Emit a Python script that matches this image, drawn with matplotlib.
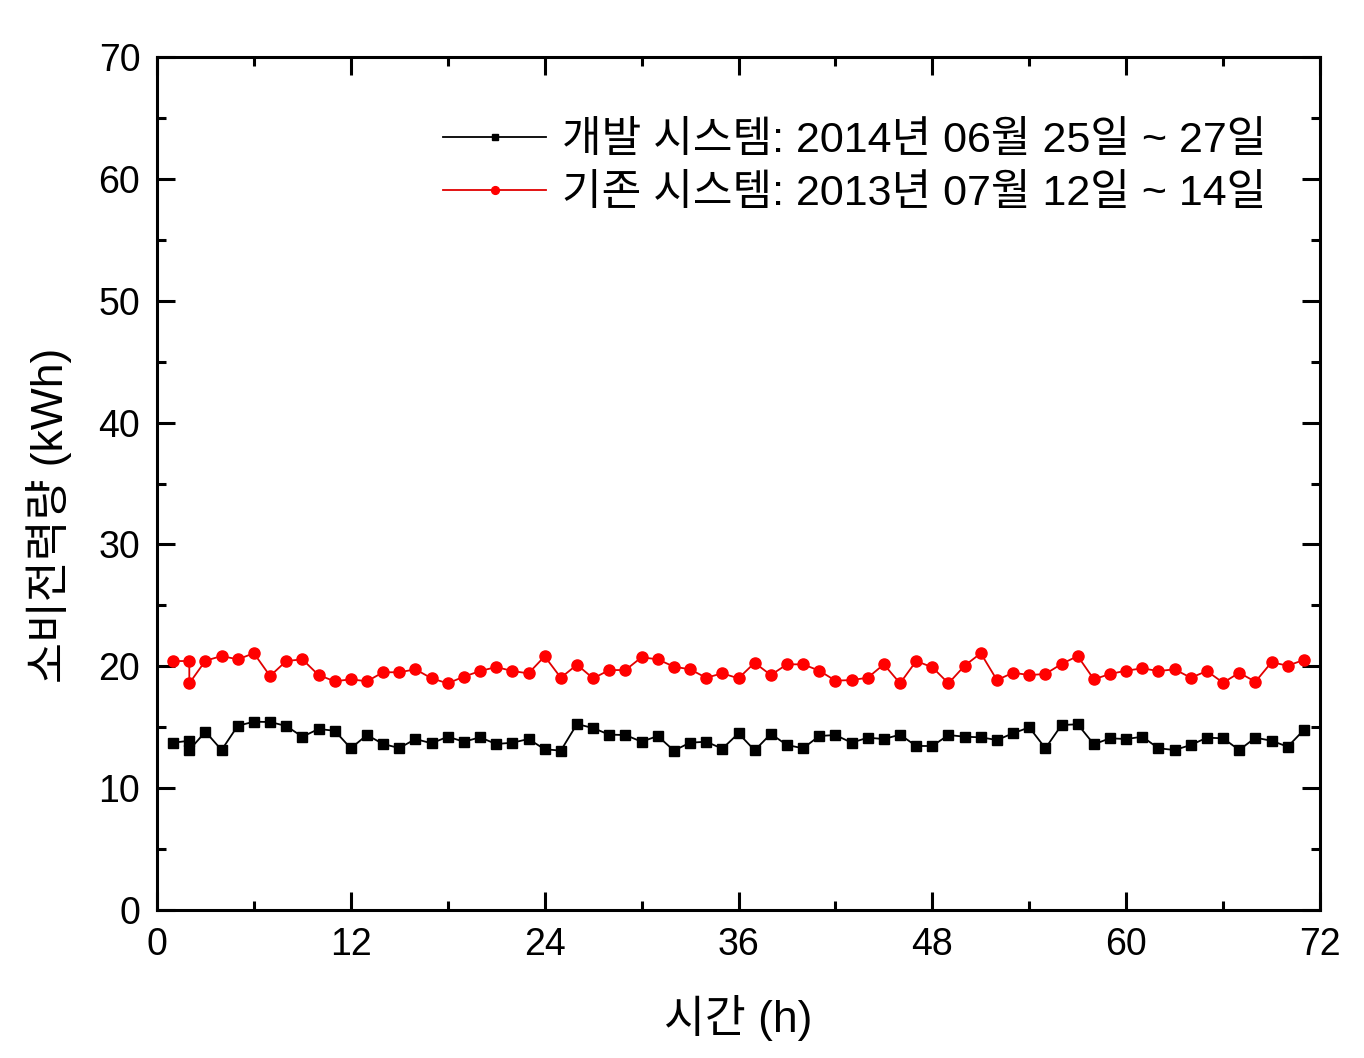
import numpy as np
import matplotlib
matplotlib.use("Agg")
import matplotlib.pyplot as plt

plt.rcParams['font.family'] = ['Liberation Sans', 'Noto Sans CJK KR']

# hours (x=2 appears twice in the source data)
hours = [1, 2, 2] + list(range(3, 72))

# 개발 시스템 (2014)
new_sys = [13.73, 13.89, 13.13, 14.63, 13.13, 15.12, 15.45, 15.43, 15.10, 14.22,
           14.85, 14.71, 13.27, 14.36, 13.62, 13.29, 14.03, 13.68, 14.22, 13.81,
           14.17, 13.62, 13.73, 14.03, 13.19, 13.08, 15.26, 14.93, 14.39, 14.36,
           13.81, 14.28, 13.08, 13.73, 13.81, 13.24, 14.50, 13.10, 14.45, 13.54,
           13.27, 14.28, 14.36, 13.73, 14.14, 14.03, 14.39, 13.46, 13.46, 14.36,
           14.22, 14.17, 13.95, 14.50, 14.99, 13.27, 15.18, 15.24, 13.60, 14.09,
           14.03, 14.22, 13.27, 13.13, 13.54, 14.14, 14.09, 13.13, 14.14, 13.89,
           13.40, 14.77]

# 기존 시스템 (2013)
old_sys = [20.43, 20.43, 18.60, 20.46, 20.84, 20.57, 21.07, 19.20, 20.43, 20.57,
           19.28, 18.77, 18.93, 18.77, 19.51, 19.51, 19.75, 19.01, 18.60, 19.15,
           19.61, 19.94, 19.61, 19.42, 20.82, 19.06, 20.13, 19.01, 19.69, 19.69,
           20.74, 20.57, 19.97, 19.75, 19.06, 19.42, 19.01, 20.29, 19.28, 20.16,
           20.16, 19.64, 18.82, 18.87, 19.06, 20.16, 18.60, 20.43, 19.92, 18.60,
           20.05, 21.07, 18.87, 19.47, 19.28, 19.37, 20.19, 20.84, 18.93, 19.37,
           19.64, 19.83, 19.61, 19.75, 19.06, 19.61, 18.65, 19.47, 18.73, 20.33,
           20.05, 20.52]

labels = ['개발 시스템: 2014년 06월 25일 ~ 27일',
          '기존 시스템: 2013년 07월 12일 ~ 14일']

fig = plt.figure(figsize=(13.64, 10.58), dpi=100)
ax = fig.add_axes([157/1364, 148/1058, 1163/1364, 853/1058])

ax.plot(hours, new_sys, color='black', linewidth=1.3, marker='s', markersize=7,
        label=labels[0])
ax.plot(hours, old_sys, color='#e00000', linewidth=1.3, marker='o', markersize=8,
        markerfacecolor='#ff0000', markeredgecolor='#ff0000', label=labels[1])

ax.set_xlim(0, 72)
ax.set_ylim(0, 70)
ax.set_xticks(np.arange(0, 73, 12))
ax.set_xticks(np.arange(6, 72, 12), minor=True)
ax.set_yticks(np.arange(0, 71, 10))
ax.set_yticks(np.arange(5, 70, 10), minor=True)

# 눈금은 안쪽, 네 면 모두
ax.tick_params(which='both', direction='in', top=True, right=True, width=2.2)
ax.tick_params(which='major', length=13, labelsize=27, pad=12)
ax.tick_params(which='minor', length=6.5)
for s in ax.spines.values():
    s.set_linewidth(2.2)

ax.set_xlabel('시간 (h)', fontsize=32, labelpad=23)
ax.set_ylabel('소비전력량 (kWh)', fontsize=32)
ax.yaxis.set_label_coords(-0.073, 0.463)

leg = ax.legend(loc='upper right', bbox_to_anchor=(0.969, 0.945), frameon=False,
                fontsize=31, handlelength=2.4, handletextpad=0.37,
                labelspacing=0.3, markerscale=0.7, borderaxespad=0)

fig.savefig('out.png', dpi=100)
